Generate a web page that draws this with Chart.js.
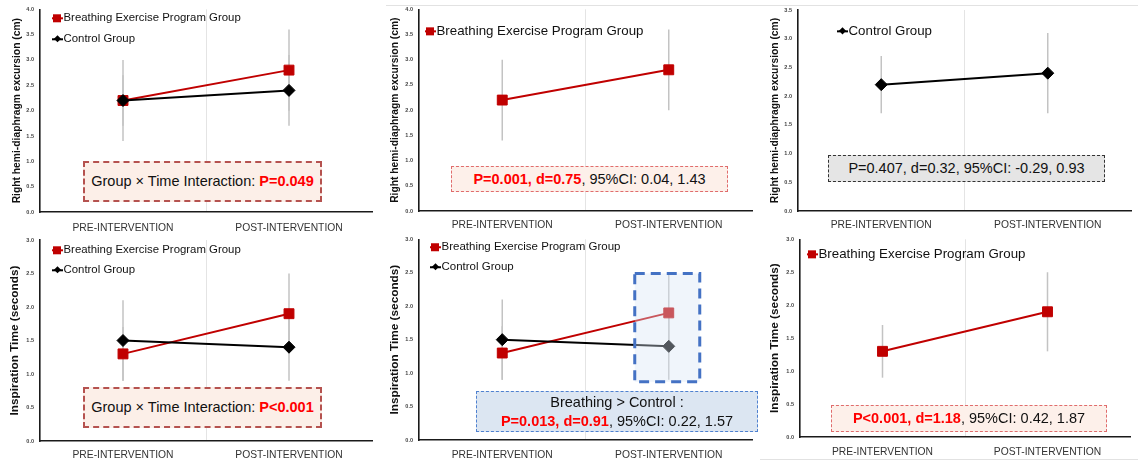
<!DOCTYPE html>
<html><head><meta charset="utf-8">
<script src="https://cdn.jsdelivr.net/npm/chart.js@4.4.1/dist/chart.umd.min.js"></script>
<style>
html,body{margin:0;padding:0;background:#fff;width:1138px;height:461px;overflow:hidden;font-family:"Liberation Sans",Arial,sans-serif;}
canvas{position:absolute;}
.leg{position:absolute;display:flex;align-items:center;color:#111;white-space:nowrap;line-height:1;transform:translateY(-50%);}
.mk{position:relative;display:inline-block;width:11px;height:10px;margin-right:1px;flex:none;}
.mk .ln{position:absolute;left:0;right:0;top:50%;height:2px;margin-top:-1px;}
.mk .sq{position:absolute;left:50%;top:50%;width:8px;height:8px;margin:-4px 0 0 -4px;}
.mk .dm{position:absolute;left:50%;top:50%;width:5px;height:5px;margin:-2.5px 0 0 -2.5px;transform:rotate(45deg);}
.box{position:absolute;display:flex;flex-direction:column;align-items:center;justify-content:center;box-sizing:border-box;font-size:14.5px;color:#111;white-space:nowrap;line-height:1.3;}
.red{color:#ff0000;font-weight:bold;}
.sep{position:absolute;height:1px;background:#e2e2e2;}
</style></head>
<body>
<div class="sep" style="left:386px;top:5px;width:752px;"></div>
<div class="sep" style="left:760px;top:459px;width:378px;"></div>
<script>
// ---------- data ----------
const categories = ['PRE-INTERVENTION', 'POST-INTERVENTION'];
const seriesNames = ['Breathing Exercise Program Group', 'Control Group'];

const diaphragmBreathing   = [2.2, 2.8];
const diaphragmBreathingSD = [0.8, 0.8];
const diaphragmControl     = [2.2, 2.4];
const diaphragmControlSD   = [0.5, 0.7];

const inspirationBreathing   = [1.3, 1.9];
const inspirationBreathingSD = [0.4, 0.6];
const inspirationControl     = [1.5, 1.4];
const inspirationControlSD   = [0.6, 0.5];

const diaphragmTicks        = ['0.0','0.5','1.0','1.5','2.0','2.5','3.0','3.5','4.0'];
const diaphragmControlTicks = ['0.0','0.5','1.0','1.5','2.0','2.5','3.0','3.5'];
const inspirationTicks      = ['0.0','0.5','1.0','1.5','2.0','2.5','3.0'];

// ---------- styles ----------
const RED = '#c00000';
const BLACK = '#000000';
const FONT = '"Liberation Sans", Arial, sans-serif';

function breathingDS(data, sd) {
  return { label: seriesNames[0], data: data, errorSD: sd, borderColor: RED, backgroundColor: RED,
    pointBorderColor: RED, pointStyle: 'rect', pointRadius: 7, pointBorderWidth: 1, borderWidth: 2, order: 1 };
}
function controlDS(data, sd) {
  return { label: seriesNames[1], data: data, errorSD: sd, borderColor: BLACK, backgroundColor: BLACK,
    pointBorderColor: BLACK, pointStyle: 'rectRot', pointRadius: 6, pointBorderWidth: 1, borderWidth: 2, order: 0 };
}

const errorBarPlugin = {
  id: 'errorBars',
  beforeDatasetsDraw(chart) {
    const ctx = chart.ctx, ys = chart.scales.y;
    ctx.save();
    ctx.strokeStyle = '#c3c3c3';
    ctx.lineWidth = 1.5;
    chart.data.datasets.forEach((ds, i) => {
      const meta = chart.getDatasetMeta(i);
      ds.data.forEach((v, j) => {
        const sd = ds.errorSD[j];
        const x = meta.data[j].x;
        ctx.beginPath();
        ctx.moveTo(x, ys.getPixelForValue(v + sd));
        ctx.lineTo(x, ys.getPixelForValue(v - sd));
        ctx.stroke();
      });
    });
    ctx.restore();
  }
};

const highlightPlugin = {
  id: 'highlight',
  afterDatasetsDraw(chart, args, opts) {
    if (!opts || opts.index === undefined) return;
    const ctx = chart.ctx, xs = chart.scales.x, ys = chart.scales.y;
    const cx = xs.getPixelForValue(opts.index);
    const x0 = cx - opts.left, x1 = cx + opts.right;
    const y0 = ys.getPixelForValue(opts.to), y1 = ys.getPixelForValue(opts.from);
    ctx.save();
    ctx.fillStyle = 'rgba(215,228,245,0.38)';
    ctx.fillRect(x0, y0, x1 - x0, y1 - y0);
    ctx.strokeStyle = '#4472c4';
    ctx.lineWidth = 3;
    ctx.setLineDash([10, 6]);
    ctx.strokeRect(x0, y0, x1 - x0, y1 - y0);
    ctx.restore();
  }
};

const panels = [
  { x: 0, y: 0, w: 380, h: 234, area: { l: 40, t: 7, r: 380, b: 212 }, xPad: 10, ticks: diaphragmTicks,
    title: 'Right hemi-diaphragm excursion (cm)', titleSize: 10.3, titleX: 17,
    datasets: [breathingDS(diaphragmBreathing, diaphragmBreathingSD), controlDS(diaphragmControl, diaphragmControlSD)] },
  { x: 380, y: 0, w: 380, h: 230, area: { l: 39, t: 9, r: 379, b: 211 }, xPad: 8, ticks: diaphragmTicks,
    title: 'Right hemi-diaphragm excursion (cm)', titleSize: 10.3, titleX: 15,
    datasets: [breathingDS(diaphragmBreathing, diaphragmBreathingSD)] },
  { x: 760, y: 0, w: 378, h: 230, area: { l: 38, t: 10, r: 377, b: 211 }, xPad: 8, ticks: diaphragmControlTicks,
    title: 'Right hemi-diaphragm excursion (cm)', titleSize: 10.3, titleX: 15,
    datasets: [controlDS(diaphragmControl, diaphragmControlSD)] },
  { x: 0, y: 230, w: 380, h: 231, area: { l: 40, t: 10, r: 380, b: 211 }, xPad: 8, ticks: inspirationTicks,
    title: 'Inspiration Time (seconds)', titleSize: 11.8, titleX: 15,
    datasets: [breathingDS(inspirationBreathing, inspirationBreathingSD), controlDS(inspirationControl, inspirationControlSD)] },
  { x: 380, y: 230, w: 380, h: 231, area: { l: 39, t: 6, r: 379, b: 210 }, xPad: 9, ticks: inspirationTicks,
    title: 'Inspiration Time (seconds)', titleSize: 11.8, titleX: 15,
    datasets: [breathingDS(inspirationBreathing, inspirationBreathingSD), controlDS(inspirationControl, inspirationControlSD)],
    highlight: { index: 1, from: 0.87, to: 2.49, left: 34, right: 31 } },
  { x: 760, y: 230, w: 378, h: 231, area: { l: 40, t: 5, r: 376, b: 207 }, xPad: 9, ticks: inspirationTicks,
    title: 'Inspiration Time (seconds)', titleSize: 11.8, titleX: 15,
    datasets: [breathingDS(inspirationBreathing, inspirationBreathingSD)] }
];

panels.forEach(p => {
  const cv = document.createElement('canvas');
  cv.width = p.w; cv.height = p.h;
  cv.style.left = p.x + 'px'; cv.style.top = p.y + 'px';
  cv.style.width = p.w + 'px'; cv.style.height = p.h + 'px';
  document.body.appendChild(cv);
  const tickLabels = p.ticks;
  const lh = p.titleSize * 1.2;
  new Chart(cv.getContext('2d'), {
    type: 'line',
    data: { labels: categories, datasets: p.datasets },
    options: {
      responsive: false, animation: false, devicePixelRatio: 1, events: [],
      layout: { padding: { top: p.area.t, left: 0, right: p.w - p.area.r, bottom: 0 } },
      plugins: { legend: { display: false }, tooltip: { enabled: false }, highlight: p.highlight || {} },
      scales: {
        x: {
          offset: true,
          grid: { offset: true, drawTicks: false, lineWidth: 1,
            color: c => (c.index === 1 ? '#e4e4e4' : 'rgba(0,0,0,0)') },
          border: { display: true, color: '#1a1a1a', width: 1.6 },
          ticks: { padding: p.xPad, color: '#333', font: { family: FONT, size: 10.3 } },
          afterFit: s => { s.height = p.h - p.area.b; }
        },
        y: {
          min: 0, max: parseFloat(tickLabels[tickLabels.length - 1]),
          grid: { drawTicks: false, color: 'rgba(0,0,0,0)' },
          border: { display: true, color: '#1a1a1a', width: 1.6 },
          ticks: { stepSize: 0.5, padding: 6, color: '#444', font: { family: FONT, size: 5.5, weight: 'bold' },
            callback: (v, i) => tickLabels[i] },
          title: { display: true, text: p.title, color: '#111',
            font: { family: FONT, size: p.titleSize, weight: 'bold' },
            padding: { top: p.titleX - lh / 2, bottom: 0 } },
          afterFit: s => { s.width = p.area.l; }
        }
      }
    },
    plugins: [errorBarPlugin, highlightPlugin]
  });
});

// ---------- legends (HTML) ----------
const legends = [
  { x: 57, y: 18, size: 11.4, items: [0, 1], gap: 21 },
  { x: 430, y: 31, size: 13.3, items: [0], gap: 0 },
  { x: 842, y: 31, size: 13.3, items: [1], gap: 0 },
  { x: 57, y: 250, size: 11.4, items: [0, 1], gap: 20 },
  { x: 435, y: 247, size: 11.5, items: [0, 1], gap: 20 },
  { x: 812, y: 254, size: 13.3, items: [0], gap: 0 }
];
legends.forEach(L => {
  L.items.forEach((k, n) => {
    const d = document.createElement('div');
    d.className = 'leg';
    d.style.left = (L.x - 5.5) + 'px';
    d.style.top = (L.y + n * L.gap) + 'px';
    d.style.fontSize = L.size + 'px';
    const mk = document.createElement('span');
    mk.className = 'mk';
    const col = k === 0 ? RED : BLACK;
    const ln = document.createElement('span'); ln.className = 'ln'; ln.style.background = col;
    const sh = document.createElement('span'); sh.className = k === 0 ? 'sq' : 'dm'; sh.style.background = col;
    mk.appendChild(ln); mk.appendChild(sh);
    const tx = document.createElement('span');
    tx.textContent = seriesNames[k];
    d.appendChild(mk); d.appendChild(tx);
    document.body.appendChild(d);
  });
});

// ---------- annotation boxes (HTML) ----------
const boxes = [
  { l: 83, t: 161, w: 239, h: 41, border: '2px dashed #b5524f', bg: '#fcefe8',
    lines: [[['Group × Time Interaction: ', ''], ['P=0.049', 'red']]] },
  { l: 451, t: 166, w: 277, h: 26, border: '1px dashed #e06c6c', bg: '#fdf0ea',
    lines: [[['P=0.001, d=0.75', 'red'], [', 95%CI: 0.04, 1.43', '']]] },
  { l: 828, t: 155, w: 277, h: 27, border: '1px dashed #333', bg: '#e5e5e5',
    lines: [[['P=0.407, d=0.32, 95%CI: -0.29, 0.93', '']]] },
  { l: 83, t: 387, w: 239, h: 41, border: '2px dashed #b5524f', bg: '#fcefe8',
    lines: [[['Group × Time Interaction: ', ''], ['P<0.001', 'red']]] },
  { l: 476, t: 391, w: 282, h: 41, border: '1.5px dashed #4f81d0', bg: '#dce6f2',
    lines: [[['Breathing > Control :', '']], [['P=0.013, d=0.91', 'red'], [', 95%CI: 0.22, 1.57', '']]] },
  { l: 831, t: 405, w: 276, h: 27, border: '1px dashed #e06c6c', bg: '#fdf0ea',
    lines: [[['P<0.001, d=1.18', 'red'], [', 95%CI: 0.42, 1.87', '']]] }
];
boxes.forEach(B => {
  const d = document.createElement('div');
  d.className = 'box';
  Object.assign(d.style, { left: B.l + 'px', top: B.t + 'px', width: B.w + 'px', height: B.h + 'px',
    border: B.border, background: B.bg });
  B.lines.forEach(line => {
    const row = document.createElement('div');
    line.forEach(([txt, cls]) => {
      const s = document.createElement('span');
      if (cls) s.className = cls;
      s.textContent = txt;
      row.appendChild(s);
    });
    d.appendChild(row);
  });
  document.body.appendChild(d);
});
</script>
</body></html>
